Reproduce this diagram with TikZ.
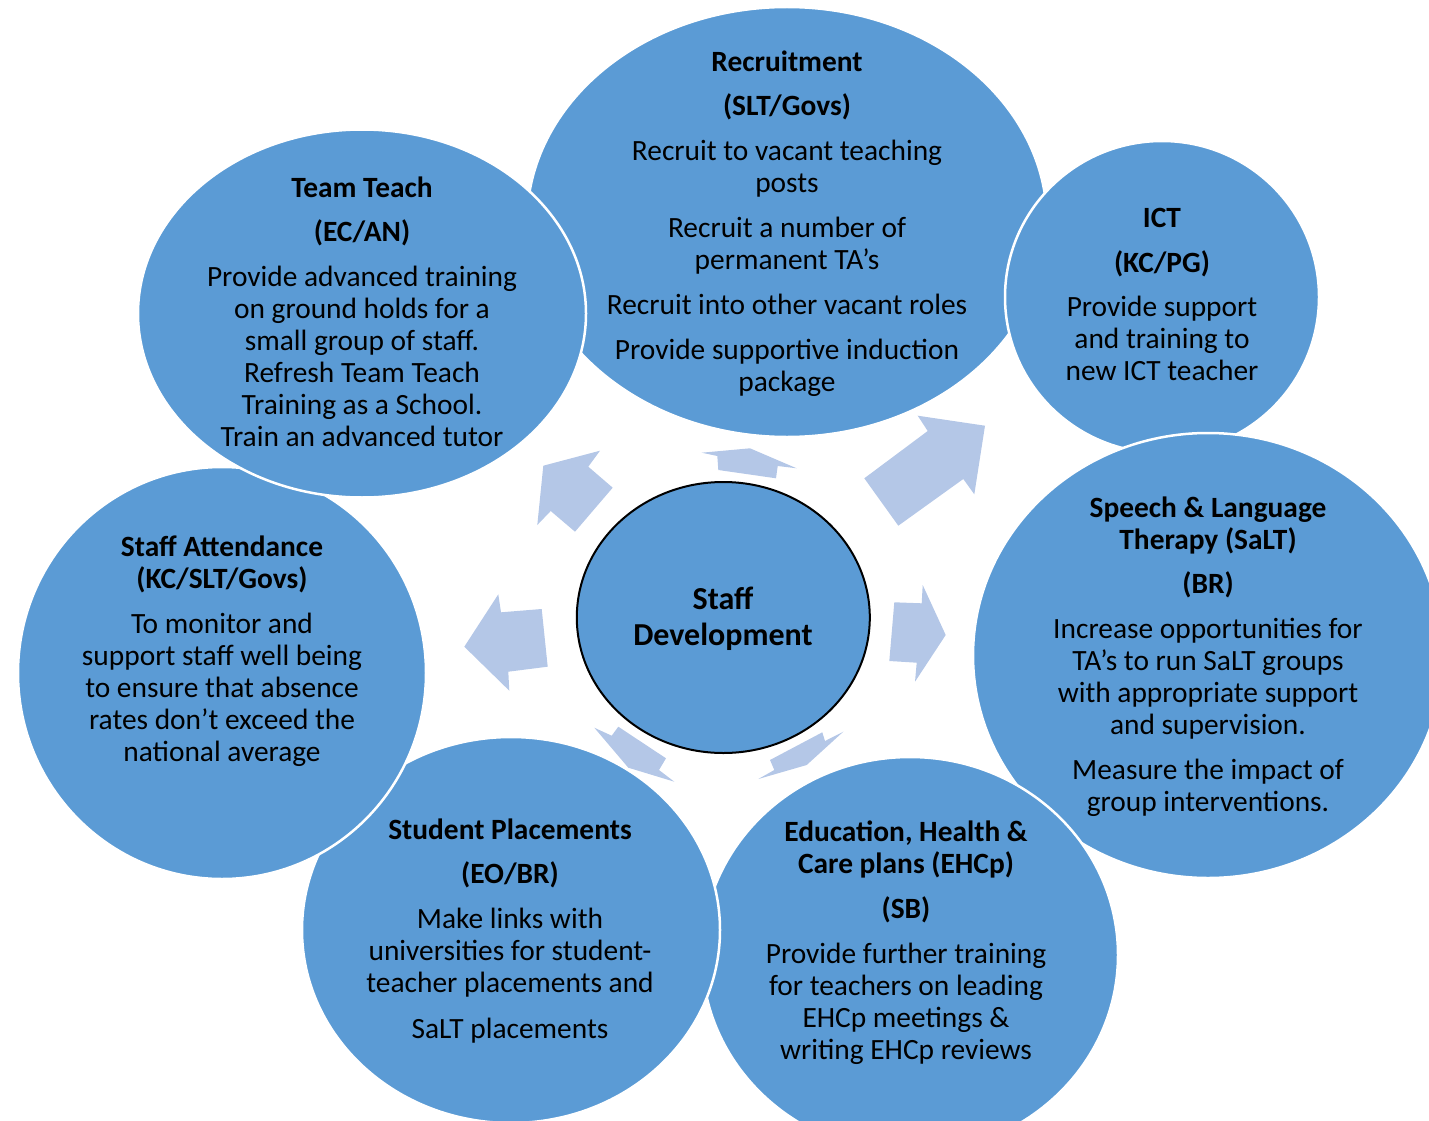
\documentclass[tikz,border=0pt]{standalone}
\usepackage{fontspec}
\setmainfont{Carlito}
\usetikzlibrary{shapes.geometric}
\definecolor{cblue}{HTML}{5B9BD5}
\definecolor{ablue}{HTML}{B4C7E7}
\newcommand\firstln{\rule{0pt}{25pt}}
\begin{document}
\begin{tikzpicture}[x=1pt,y=-1pt,
  circ/.style={ellipse, fill=cblue, draw=white, line width=2.5pt, inner sep=0pt, outer sep=0pt},
  txt/.style={align=center, inner sep=0pt, anchor=north, font=\fontsize{29.4}{32}\selectfont, text=black},
  blockarrow/.style={fill=ablue, draw=none}]
\useasboundingbox (0,0) rectangle (1429,1121);
\clip (0,0) rectangle (1429,1121);
% circles (bottom to top)
\node[circ, minimum width=520pt, minimum height=430pt] (rec) at (787,222) {};
\node[circ, minimum width=314pt, minimum height=312pt] (ict) at (1162,297) {};
\node[circ, minimum width=470pt, minimum height=445pt] (salt) at (1208,655.5) {};
\node[circ, minimum width=416pt, minimum height=396pt] (ehc) at (910,955) {};
\node[circ, minimum width=418pt, minimum height=386pt] (stu) at (511,930) {};
\node[circ, minimum width=408pt, minimum height=412pt] (att) at (222,673) {};
\node[circ, minimum width=448pt, minimum height=368pt] (tt) at (362,313.5) {};
% block arrows
\fill[blockarrow] (543.3,465.7) -- (600,450.7) -- (588.3,466.7) -- (612.7,487.7) -- (575,531.7) -- (550.7,511) -- (537.3,525) -- cycle;
\fill[blockarrow] (701.7,452.7) -- (750,448.3) -- (796.7,468.3) -- (777.7,466) -- (776,478.3) -- (718.3,470) -- (717.3,456) -- cycle;
\fill[blockarrow] (864.3,478.3) -- (927.7,431) -- (917.7,415.7) -- (985,425.7) -- (974.3,494.3) -- (963.3,479) -- (898.3,525.7) -- cycle;
\fill[blockarrow] (894.3,602.3) -- (921.7,603.3) -- (922.7,585) -- (945.7,635) -- (915,681.7) -- (916.7,662.7) -- (889.3,661) -- cycle;
\fill[blockarrow] (464.3,646.7) -- (498.3,594.3) -- (501,612.3) -- (541.7,609) -- (547.7,666.7) -- (508.3,671.7) -- (509.3,690.7) -- cycle;
\fill[blockarrow] (594.3,727.7) -- (611.7,735.7) -- (618.3,726.7) -- (666,758.3) -- (659,770) -- (674.3,781.7) -- (628.3,767.7) -- cycle;
\fill[blockarrow] (843.3,731.7) -- (825,741) -- (822.3,732.3) -- (770,760) -- (774.3,770) -- (758.3,779) -- (806.7,765) -- cycle;
% centre
\node[ellipse, fill=cblue, draw=black, line width=2pt, inner sep=0pt, minimum width=293pt, minimum height=271pt] (sd) at (723.3,617.5) {};
% texts
\node[txt] (recT) at (787,46) {\firstln\textbf{Recruitment}\\[12pt]\textbf{(SLT/Govs)}\\[13pt]Recruit to vacant teaching\\posts\\[13pt]Recruit a number of\\permanent TA’s\\[13pt]Recruit into other vacant roles\\[13pt]Provide supportive induction\\package};
\node[txt] (ttT) at (362,172) {\firstln\textbf{Team Teach}\\[12pt]\textbf{(EC/AN)}\\[13pt]Provide advanced training\\on ground holds for a\\small group of staff.\\Refresh Team Teach\\Training as a School.\\Train an advanced tutor};
\node[txt] (ictT) at (1162,202) {\firstln\textbf{ICT}\\[13pt]\textbf{(KC/PG)}\\[12pt]Provide support\\and training to\\new ICT teacher};
\node[txt] (saltT) at (1208,492) {\firstln\textbf{Speech \& Language}\\\textbf{Therapy (SaLT)}\\[12pt]\textbf{(BR)}\\[13pt]Increase opportunities for\\TA’s to run SaLT groups\\with appropriate support\\and supervision.\\[13pt]Measure the impact of\\group interventions.};
\node[txt] (attT) at (222,531) {\firstln\textbf{Staff Attendance}\\\textbf{(KC/SLT/Govs)}\\[13pt]To monitor and\\support staff well being\\to ensure that absence\\rates don’t exceed the\\national average};
\node[txt] (stuT) at (510,814) {\firstln\textbf{Student Placements}\\[12pt]\textbf{(EO/BR)}\\[13pt]Make links with\\universities for student-\\teacher placements and\\[14pt]SaLT placements};
\node[txt] (ehcT) at (906,816) {\firstln\textbf{Education, Health \&}\\\textbf{Care plans (EHCp)}\\[13pt]\textbf{(SB)}\\[13pt]Provide further training\\for teachers on leading\\EHCp meetings \&\\writing EHCp reviews};
\node[txt, font=\fontsize{32}{36}\selectfont\bfseries] (sdT) at (723,584) {\firstln Staff\\Development};
\end{tikzpicture}
\end{document}
